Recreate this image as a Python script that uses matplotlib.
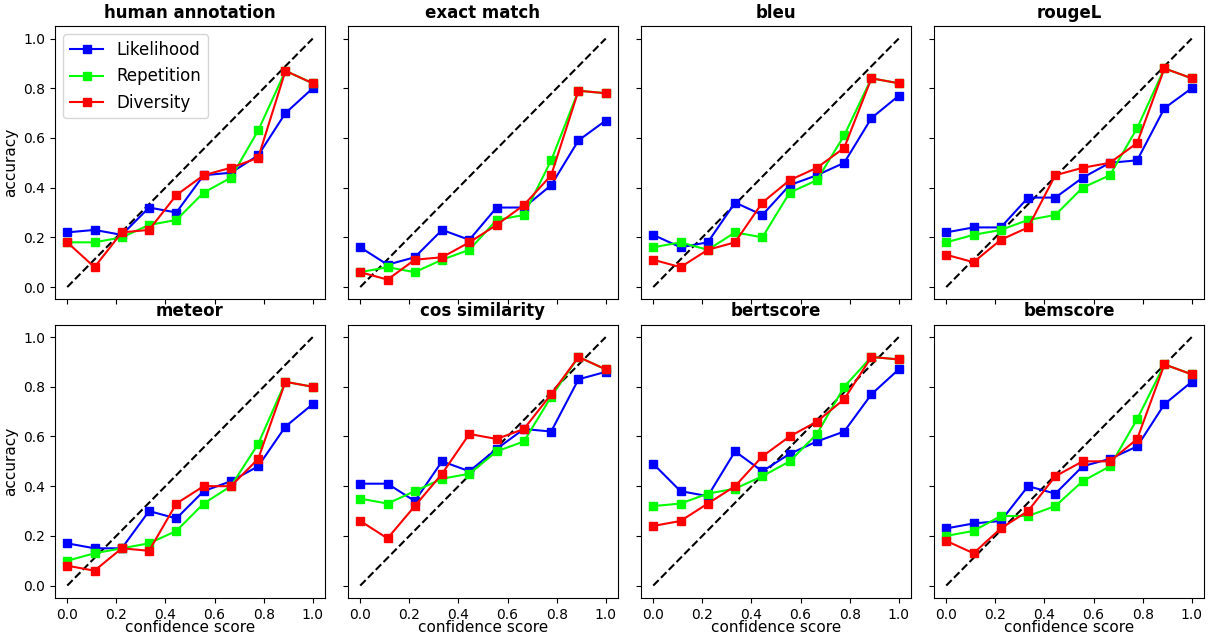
import numpy as np
import matplotlib
matplotlib.use("Agg")
import matplotlib.pyplot as plt

# confidence bins (10 bins between 0 and 1)
conf = np.linspace(0, 1, 10)

titles = ["human annotation", "exact match", "bleu", "rougeL",
          "meteor", "cos similarity", "bertscore", "bemscore"]

likelihood = [
    [0.22, 0.23, 0.21, 0.32, 0.30, 0.45, 0.46, 0.53, 0.70, 0.80],
    [0.16, 0.09, 0.12, 0.23, 0.19, 0.32, 0.32, 0.41, 0.59, 0.67],
    [0.21, 0.16, 0.18, 0.34, 0.29, 0.41, 0.45, 0.50, 0.68, 0.77],
    [0.22, 0.24, 0.24, 0.36, 0.36, 0.44, 0.50, 0.51, 0.72, 0.80],
    [0.17, 0.15, 0.15, 0.30, 0.27, 0.38, 0.42, 0.48, 0.64, 0.73],
    [0.41, 0.41, 0.34, 0.50, 0.46, 0.55, 0.63, 0.62, 0.83, 0.86],
    [0.49, 0.38, 0.36, 0.54, 0.46, 0.53, 0.58, 0.62, 0.77, 0.87],
    [0.23, 0.25, 0.26, 0.40, 0.37, 0.48, 0.51, 0.56, 0.73, 0.82],
]
repetition = [
    [0.18, 0.18, 0.20, 0.25, 0.27, 0.38, 0.44, 0.63, 0.87, 0.82],
    [0.06, 0.08, 0.06, 0.11, 0.15, 0.27, 0.29, 0.51, 0.79, 0.78],
    [0.16, 0.18, 0.15, 0.22, 0.20, 0.38, 0.43, 0.61, 0.84, 0.82],
    [0.18, 0.21, 0.23, 0.27, 0.29, 0.40, 0.45, 0.64, 0.88, 0.84],
    [0.10, 0.13, 0.15, 0.17, 0.22, 0.33, 0.40, 0.57, 0.82, 0.80],
    [0.35, 0.33, 0.38, 0.43, 0.45, 0.54, 0.58, 0.76, 0.92, 0.87],
    [0.32, 0.33, 0.37, 0.39, 0.44, 0.50, 0.61, 0.80, 0.92, 0.91],
    [0.20, 0.22, 0.28, 0.28, 0.32, 0.42, 0.48, 0.67, 0.89, 0.85],
]
diversity = [
    [0.18, 0.08, 0.22, 0.23, 0.37, 0.45, 0.48, 0.52, 0.87, 0.82],
    [0.06, 0.03, 0.11, 0.12, 0.18, 0.25, 0.33, 0.45, 0.79, 0.78],
    [0.11, 0.08, 0.15, 0.18, 0.34, 0.43, 0.48, 0.56, 0.84, 0.82],
    [0.13, 0.10, 0.19, 0.24, 0.45, 0.48, 0.50, 0.58, 0.88, 0.84],
    [0.08, 0.06, 0.15, 0.14, 0.33, 0.40, 0.40, 0.51, 0.82, 0.80],
    [0.26, 0.19, 0.32, 0.45, 0.61, 0.59, 0.63, 0.77, 0.92, 0.87],
    [0.24, 0.26, 0.33, 0.40, 0.52, 0.60, 0.66, 0.75, 0.92, 0.91],
    [0.18, 0.13, 0.23, 0.30, 0.44, 0.50, 0.50, 0.59, 0.89, 0.85],
]

fig, axes = plt.subplots(2, 4, figsize=(12.08, 6.37), dpi=100, sharex=True, sharey=True)
fig.subplots_adjust(left=0.0455, right=0.9967, top=0.959, bottom=0.0612,
                    wspace=0.085, hspace=0.092)

for i, ax in enumerate(axes.flat):
    ax.plot([0, 1], [0, 1], "k--")
    ax.plot(conf, likelihood[i], "s-", color="blue", markersize=6, label="Likelihood")
    ax.plot(conf, repetition[i], "s-", color="lime", markersize=6, label="Repetition")
    ax.plot(conf, diversity[i], "s-", color="red", markersize=6, label="Diversity")
    ax.set_title(titles[i], fontsize=12, fontweight="bold")
    ax.tick_params(labelsize=10)
    if i % 4 == 0:
        ax.set_ylabel("accuracy", fontsize=11)
    if i >= 4:
        ax.set_xlabel("confidence score", fontsize=11, labelpad=-1)

ax0 = axes[0, 0]
ax0.set_xticks([0.0, 0.2, 0.4, 0.6, 0.8, 1.0])
ax0.set_yticks([0.0, 0.2, 0.4, 0.6, 0.8, 1.0])
ax0.legend(fontsize=12, loc="upper left")

fig.savefig("out.png")
